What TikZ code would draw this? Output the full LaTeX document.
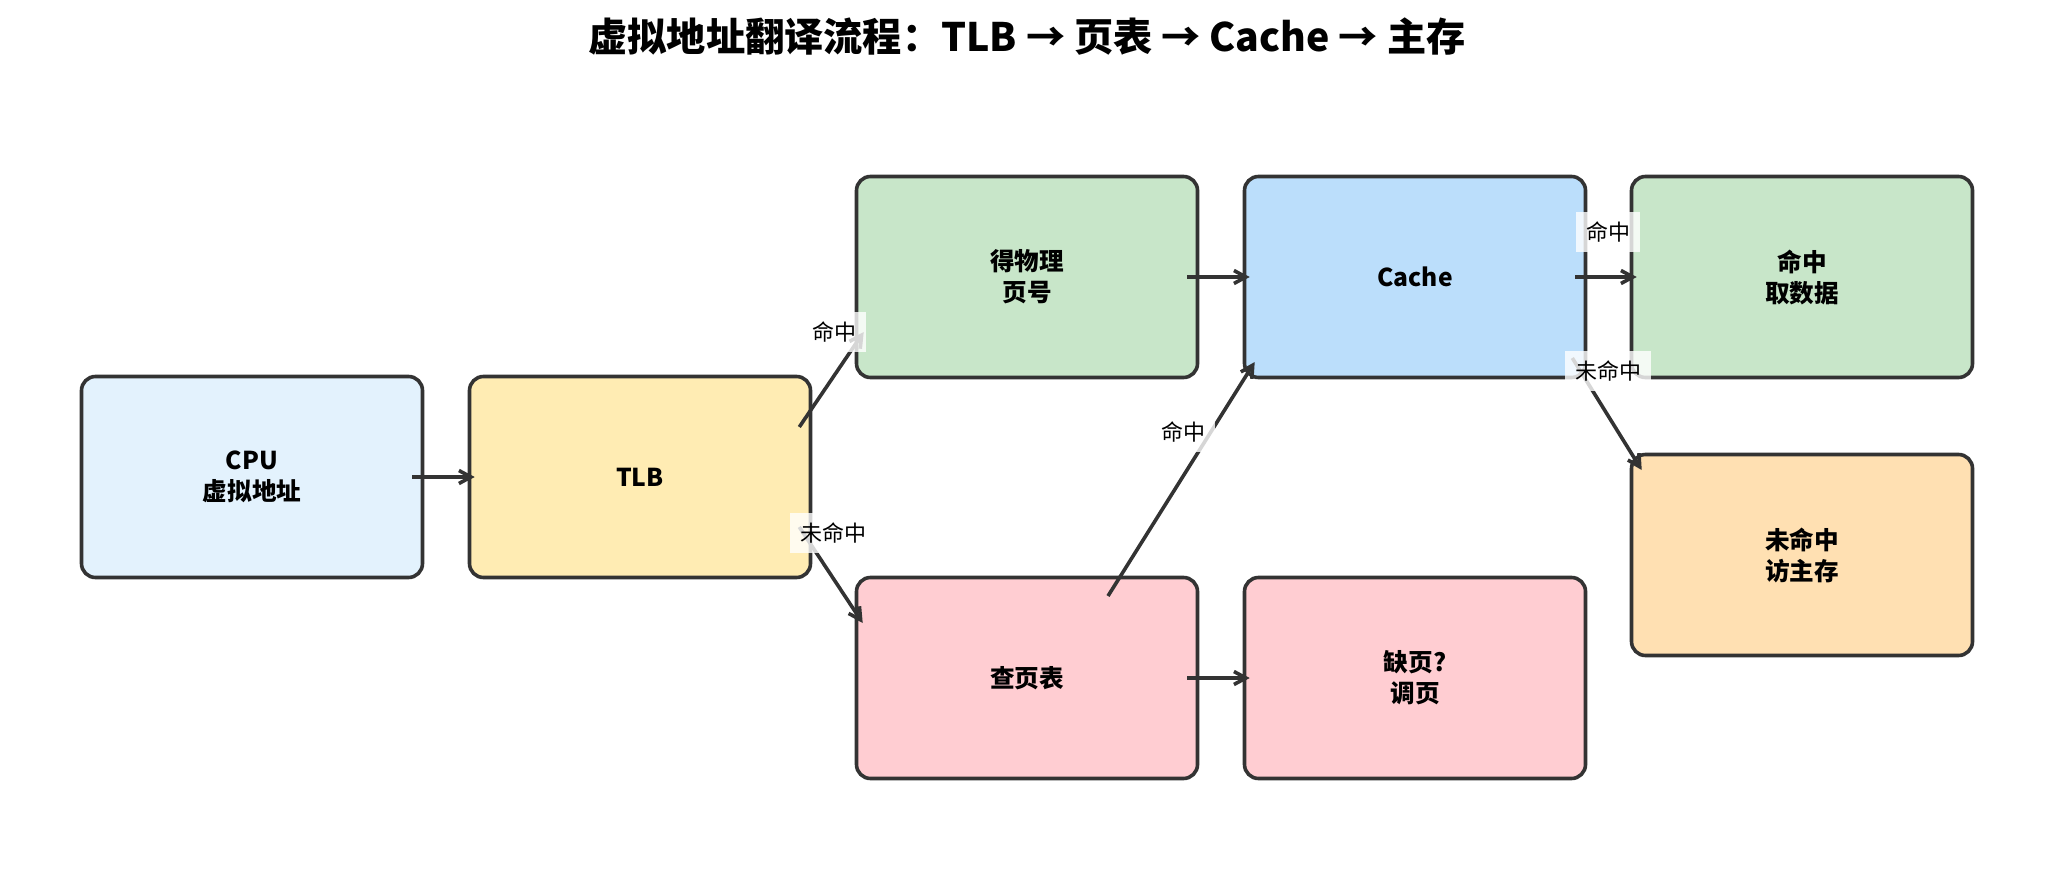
\documentclass[tikz,border=0pt]{standalone}
\usepackage{fontspec}
\setmainfont{Noto Sans CJK SC}
\usetikzlibrary{arrows.meta}
\definecolor{edgegray}{HTML}{333333}
\definecolor{cpublue}{HTML}{E3F2FD}
\definecolor{tlbyellow}{HTML}{FFECB3}
\definecolor{hitgreen}{HTML}{C8E6C9}
\definecolor{cacheblue}{HTML}{BBDEFB}
\definecolor{misspink}{HTML}{FFCDD2}
\definecolor{memorange}{HTML}{FFE0B2}

\begin{document}
\begin{tikzpicture}[x=0.5pt,y=-0.5pt,
    box/.style={draw=edgegray,line width=1.8pt,rounded corners=7pt,minimum width=170.5pt,minimum height=100.5pt,align=center,font=\bfseries\fontsize{12.3}{15.5}\selectfont},
    arr/.style={draw=edgegray,line width=1.8pt,-{Straight Barb[length=6pt,width=6.5pt]}},
    lbl/.style={fill=white,fill opacity=0.8,text opacity=1,inner sep=5pt,font=\fontsize{11}{13}\selectfont}]
    \useasboundingbox (0,0) rectangle (2055,883);
    \node[font=\bfseries\fontsize{19.6}{23}\selectfont] (title) at (1027,37) {虚拟地址翻译流程：TLB → 页表 → Cache → 主存};
    % boxes
    \node[box,fill=cpublue] (cpu) at (252,477) {CPU\\虚拟地址};
    \node[box,fill=tlbyellow] (tlb) at (640,477) {TLB};
    \node[box,fill=hitgreen] (ppn) at (1027,277) {得物理\\页号};
    \node[box,fill=misspink] (walk) at (1027,678) {查页表};
    \node[box,fill=cacheblue] (cache) at (1415,277) {Cache};
    \node[box,fill=misspink] (fault) at (1415,678) {缺页?\\调页};
    \node[box,fill=hitgreen] (hit) at (1802,277) {命中\\取数据};
    \node[box,fill=memorange] (mem) at (1802,555) {未命中\\访主存};
    % arrows
    \draw[arr] ([shift={(-12,0)}]cpu.east) -- ([shift={(7,0)}]tlb.west);
    \draw[arr] ([shift={(-13,-50)}]tlb.east) -- ([shift={(9,55)}]ppn.west);
    \draw[arr] ([shift={(-13,50)}]tlb.east) -- ([shift={(8,-55)}]walk.west);
    \draw[arr] ([shift={(-12,0)}]ppn.east) -- ([shift={(7,0)}]cache.west);
    \draw[arr] ([shift={(81,-82)}]walk.center) -- ([shift={(12,85)}]cache.west);
    \draw[arr] ([shift={(-12,0)}]walk.east) -- ([shift={(7,0)}]fault.west);
    \draw[arr] ([shift={(-12,0)}]cache.east) -- ([shift={(7,0)}]hit.west);
    \draw[arr] ([shift={(-15,81)}]cache.east) -- ([shift={(12,-85)}]mem.west);
    % labels
    \node[lbl] (hit1) at (834,332) {命中};
    \node[lbl] (miss1) at (833,533) {未命中};
    \node[lbl] (hit2) at (1183,432) {命中};
    \node[lbl] (hit3) at (1608,232) {命中};
    \node[lbl] (miss2) at (1608,371) {未命中};
\end{tikzpicture}
\end{document}
